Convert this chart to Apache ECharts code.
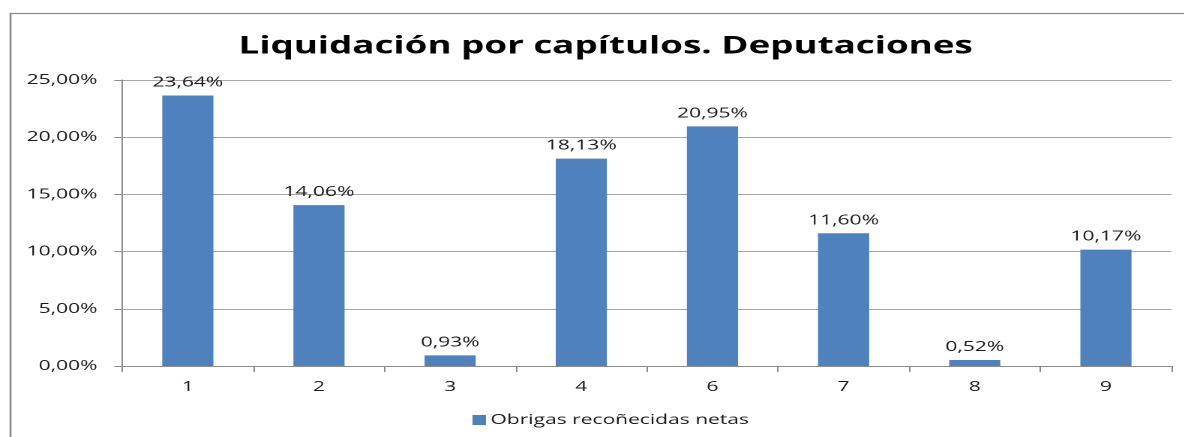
<!DOCTYPE html>
<html>
<head>
<meta charset="utf-8">
<script src="https://cdn.jsdelivr.net/npm/echarts@6/dist/echarts.min.js"></script>
<style>
  html, body { margin: 0; padding: 0; background: #fff; overflow: hidden; }
  /* o orixinal está estirado en horizontal: debúxase estreito e escálase */
  #chart { width: 789px; height: 437px; transform: scaleX(1.5); transform-origin: 0 0; }
</style>
</head>
<body>
<div id="chart"></div>
<script>
// datos do gráfico
var capitulos = ['1', '2', '3', '4', '6', '7', '8', '9'];
var obrigas = [23.64, 14.06, 0.93, 18.13, 20.95, 11.60, 0.52, 10.17];
var serieNome = 'Obrigas recoñecidas netas';
var titulo = 'Liquidación por capítulos. Deputaciones';

function pct(v) {
    return v.toFixed(2).replace('.', ',') + '%';
}

var myChart = echarts.init(document.getElementById('chart'), null, { devicePixelRatio: 2 });

myChart.setOption({
    animation: false,
    textStyle: { fontFamily: 'Open Sans' },
    title: {
        text: titulo,
        left: 154,
        top: 29,
        textStyle: { fontSize: 24.5, fontWeight: 'bold', color: '#000', fontFamily: 'Open Sans' }
    },
    graphic: [{
        type: 'rect',
        shape: { x: 7, y: 13.5, width: 800, height: 440 },
        style: { fill: 'none', stroke: '#8a8a8a', lineWidth: 1.3 },
        silent: true
    }],
    legend: {
        bottom: 5,
        left: 310,
        itemWidth: 9,
        itemHeight: 10,
        itemGap: 10,
        icon: 'rect',
        textStyle: { fontSize: 14, color: '#1a1a1a', padding: [0, 0, 0, -2] },
        data: [serieNome]
    },
    grid: { left: 81.5, right: 8, top: 80, bottom: 71 },
    xAxis: {
        type: 'category',
        data: capitulos,
        axisLine: { lineStyle: { color: '#8c8c8c' } },
        axisTick: { show: true, length: 6, lineStyle: { color: '#8c8c8c' } },
        axisLabel: { fontSize: 14, color: '#1a1a1a', margin: 14 }
    },
    yAxis: {
        type: 'value',
        min: 0,
        max: 25,
        interval: 5,
        axisLine: { show: true, lineStyle: { color: '#8c8c8c' } },
        axisTick: { show: true, length: 5.3, lineStyle: { color: '#8c8c8c' } },
        axisLabel: { fontSize: 14, color: '#1a1a1a', margin: 16.5, formatter: function (v) { return pct(v); } },
        splitLine: { lineStyle: { color: '#a6a6a6' } }
    },
    series: [{
        name: serieNome,
        type: 'bar',
        data: obrigas,
        barWidth: '39%',
        itemStyle: { color: '#4f81bd' },
        label: {
            show: true,
            position: 'top',
            distance: 6,
            fontSize: 14,
            color: '#1a1a1a',
            formatter: function (p) { return pct(p.value); }
        }
    }]
});
</script>
</body>
</html>
